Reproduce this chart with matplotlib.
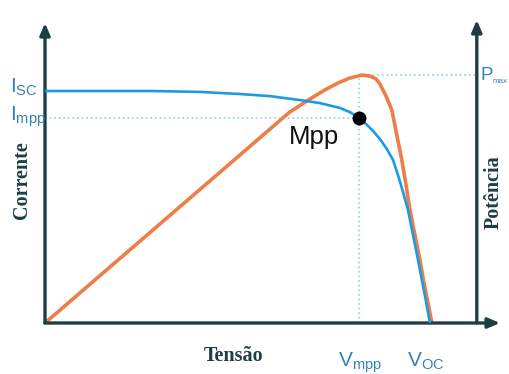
import matplotlib
matplotlib.use("Agg")
import matplotlib.pyplot as plt

plt.rcParams['font.family'] = ['Liberation Sans', 'DejaVu Sans']
plt.rcParams['mathtext.fontset'] = 'custom'
plt.rcParams['mathtext.rm'] = 'Liberation Sans'

# ---- data (normalised units: Voc = 100, Isc = 1, Pmax = 1) ----
voltage_i = [0, 14.3, 27.3, 40.3, 50.6, 58.4, 66.2, 71.4, 76.6, 79.2, 81.6, 83.4, 85.2, 87.0,
             88.8, 90.4, 91.7, 93.0, 94.3, 95.6, 96.9, 97.9, 99.0, 100.0]
current   = [1.0, 1.0, 1.0, 0.996, 0.987, 0.978, 0.961, 0.948, 0.927, 0.909, 0.884, 0.858, 0.828, 0.793,
             0.750, 0.703, 0.638, 0.565, 0.487, 0.379, 0.272, 0.185, 0.091, 0.0]

voltage_p = [0, 63.6, 68.8, 72.7, 76.1, 79.2, 82.3, 84.4, 86.0, 87.0, 88.6, 90.1, 91.4, 92.7,
             93.8, 94.8, 96.1, 97.4, 98.4, 99.5, 100.5]
power     = [0, 0.851, 0.903, 0.940, 0.968, 0.988, 1.0, 0.996, 0.984, 0.964, 0.915, 0.859, 0.758, 0.657,
             0.556, 0.456, 0.355, 0.254, 0.165, 0.081, 0.0]

v_mpp = 81.6
i_mpp = 0.884
p_max = 1.0
v_right_axis = 112.2

BLUE = '#1e9be0'
ORANGE = '#ee7d4a'
AXIS = '#1d3d47'
LBL = '#3584b0'
DOT = '#8cc4e4'

fig = plt.figure(figsize=(5.09, 3.74), dpi=100)
ax = fig.add_axes([45/509, 51/374, 455/509, 303/374])
ax.set_xlim(0, 118.2)
ax.set_ylim(0, 1.306)
ax.axis('off')
axp = ax.twinx()
axp.set_ylim(0, 1.222)
axp.axis('off')

# axes arrows
arrow_kw = dict(arrowstyle='-|>,head_length=0.7,head_width=0.3', color=AXIS, lw=2.4, shrinkA=0, shrinkB=0)
ax.annotate('', xy=(0, 0.99), xytext=(0, 0), xycoords='axes fraction', arrowprops=arrow_kw)
ax.annotate('', xy=(1.0, 0), xytext=(0, 0), xycoords='axes fraction', arrowprops=arrow_kw)
ax.annotate('', xy=(0.949, 1.0), xytext=(0.949, 0), xycoords='axes fraction', arrowprops=arrow_kw)

# guide lines
ax.plot([0, v_mpp], [i_mpp, i_mpp], ls=(0, (1, 2)), color=DOT, lw=1.1)
axp.plot([v_mpp, v_mpp], [0, p_max], ls=(0, (1, 2)), color=DOT, lw=1.1)
axp.plot([v_mpp, v_right_axis], [p_max, p_max], ls=(0, (1, 2)), color=DOT, lw=1.1)

# curves
axp.plot(voltage_p, power, color=ORANGE, lw=2.6, solid_capstyle='round', solid_joinstyle='round', zorder=3)
ax.plot(voltage_i, current, color=BLUE, lw=1.9, solid_joinstyle='round', zorder=4)
ax.plot([v_mpp], [i_mpp], 'o', color='black', ms=9, zorder=5)
ax.set_zorder(axp.get_zorder() + 1)

# labels
fs = 15
fig.text(10/509, 1 - 93/374, r'$\mathregular{I_{SC}}$', color=LBL, fontsize=fs, va='baseline')
fig.text(10/509, 1 - 121/374, r'$\mathregular{I_{mpp}}$', color=LBL, fontsize=fs, va='baseline')
fig.text(338/509, 1 - 367/374, r'$\mathregular{V_{mpp}}$', color=LBL, fontsize=fs, va='baseline')
fig.text(407/509, 1 - 367/374, r'$\mathregular{V_{OC}}$', color=LBL, fontsize=fs, va='baseline')
fig.text(480/509, 1 - 80/374, 'P', color=LBL, fontsize=13.5, va='baseline')
fig.text(493/509, 1 - 83/374, 'max', color=LBL, fontsize=5.8, va='baseline')
fig.text(289/509, 1 - 144/374, 'Mpp', color='#111111', fontsize=18.5, va='baseline')

serif = ['Liberation Serif', 'DejaVu Serif']
fig.text(22/509, 1 - 180/374, 'Corrente', family=serif, weight='bold', fontsize=14.5,
         rotation=90, ha='center', va='center', color=AXIS)
fig.text(494/509, 1 - 192/374, 'Potência', family=serif, weight='bold', fontsize=14.5,
         rotation=90, ha='center', va='center', color=AXIS)
fig.text(234/509, 1 - 356/374, 'Tensão', family=serif, weight='bold', fontsize=14.5,
         ha='center', va='center', color=AXIS)

fig.savefig('out.png', dpi=100)
